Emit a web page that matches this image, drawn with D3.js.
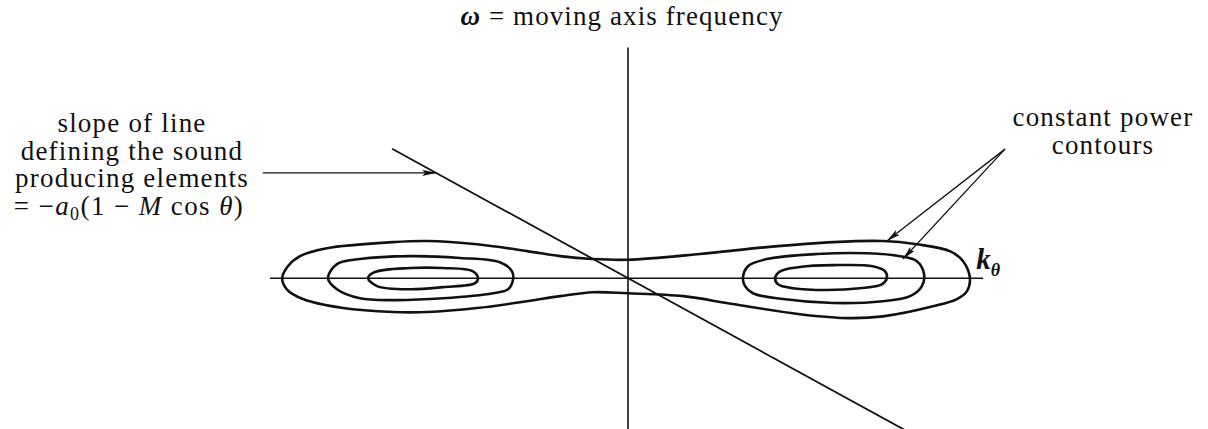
<!DOCTYPE html>
<html>
<head>
<meta charset="utf-8">
<script src="https://cdn.jsdelivr.net/npm/d3@7"></script>
<style>
  html, body { margin: 0; padding: 0; background: #fff; }
  svg { display: block; }
  text { font-family: "Liberation Serif", "Times New Roman", serif; fill: #111; }
</style>
</head>
<body>
<svg id="chart" width="1208" height="429"></svg>
<script>
// Wavenumber (k_theta) and moving-axis frequency (omega) extents
const kDomain = [-10, 10];
const omegaDomain = [-4.2, 6.4];
const kAxisExtent = [-10, 9.92];
const omegaAxisExtent = [-4.2, 6.4];

// Constant power contours, [k, omega] pairs
const outerContour = [
  [-9.66, 0], [-9.50, 0.33], [-9.16, 0.61], [-8.41, 0.83], [-6.56, 1.00], [-5.61, 1.03],
  [-4.22, 0.94], [-2.82, 0.75], [-1.90, 0.61], [-0.98, 0.53], [0, 0.51], [2.01, 0.67],
  [3.88, 0.86], [5.73, 1.00], [7.12, 1.03], [8.07, 0.94], [8.99, 0.75], [9.36, 0.47],
  [9.55, 0], [9.47, -0.36], [9.19, -0.58], [8.52, -0.78], [7.12, -1.06], [6.20, -1.11],
  [4.80, -1.00], [2.93, -0.72], [1.54, -0.50], [0, -0.42], [-0.98, -0.39], [-1.90, -0.50],
  [-2.82, -0.64], [-4.22, -0.83], [-5.61, -0.94], [-6.56, -0.94], [-7.96, -0.83],
  [-9.08, -0.58], [-9.53, -0.31]
];
const leftMiddleContour = [
  [-8.38, 0], [-8.13, 0.39], [-7.49, 0.53], [-6.09, 0.61], [-4.69, 0.56], [-3.58, 0.44],
  [-3.24, 0.19], [-3.21, -0.03], [-3.35, -0.31], [-3.77, -0.42], [-5.17, -0.56],
  [-6.56, -0.61], [-7.49, -0.56], [-8.13, -0.31]
];
const leftInnerContour = [
  [-7.26, 0], [-7.07, 0.17], [-6.09, 0.28], [-5.17, 0.28], [-4.33, 0.19], [-4.19, 0],
  [-4.27, -0.14], [-5.17, -0.25], [-6.09, -0.31], [-7.01, -0.22]
];
const rightMiddleContour = [
  [3.21, 0], [3.35, 0.33], [3.88, 0.53], [5.28, 0.67], [6.68, 0.69], [7.60, 0.61],
  [8.07, 0.47], [8.27, 0.11], [8.21, -0.22], [7.88, -0.50], [7.12, -0.64], [5.73, -0.69],
  [4.33, -0.58], [3.49, -0.42], [3.27, -0.22]
];
const rightInnerContour = [
  [4.11, 0], [4.25, 0.19], [4.80, 0.31], [5.73, 0.36], [6.84, 0.33], [7.18, 0.19],
  [7.23, 0], [7.09, -0.17], [6.48, -0.28], [5.56, -0.33], [4.61, -0.28], [4.19, -0.17]
];
const contours = [outerContour, leftMiddleContour, leftInnerContour, rightMiddleContour, rightInnerContour];

// Line of sound-producing elements: omega = slope * k
const sourceSlope = -0.545;
const sourceLineK = [-6.59, 7.79];

// Annotation anchors [k, omega]
const sourceArrowTail = [-10.2, 2.92];
const powerArrowTail = [10.53, 3.58];
const powerArrowTips = [[7.23, 1.03], [7.68, 0.53]];

// Text
const titleText = "moving axis frequency";
const sourceLabelLines = ["slope of line", "defining the sound", "producing elements"];
const powerLabelLines = ["constant power", "contours"];

const svg = d3.select("#chart");
const x = d3.scaleLinear().domain(kDomain).range([270, 986]);
const y = d3.scaleLinear().domain(omegaDomain).range([429.5, 47.5]);
const ink = "#111";

// arrowhead marker
svg.append("defs").append("marker")
  .attr("id", "head")
  .attr("markerUnits", "userSpaceOnUse")
  .attr("viewBox", "0 0 14 6")
  .attr("refX", 14).attr("refY", 3)
  .attr("markerWidth", 14).attr("markerHeight", 6)
  .attr("orient", "auto")
  .append("path").attr("d", "M0,0 L14,3 L0,6 L3,3 Z").attr("fill", ink);

// axes
svg.append("line")
  .attr("x1", x(kAxisExtent[0])).attr("x2", x(kAxisExtent[1]))
  .attr("y1", y(0)).attr("y2", y(0))
  .attr("stroke", ink).attr("stroke-width", 1.5);
svg.append("line")
  .attr("x1", x(0)).attr("x2", x(0))
  .attr("y1", y(omegaAxisExtent[1])).attr("y2", y(omegaAxisExtent[0]))
  .attr("stroke", ink).attr("stroke-width", 1.6);

// contours
const contourLine = d3.line()
  .x(d => x(d[0])).y(d => y(d[1]))
  .curve(d3.curveCatmullRomClosed.alpha(0.5));
svg.append("g").selectAll("path")
  .data(contours)
  .join("path")
  .attr("d", contourLine)
  .attr("fill", "none")
  .attr("stroke", ink)
  .attr("stroke-width", 2.6)
  .attr("stroke-linejoin", "round");

// source line
svg.append("line")
  .attr("x1", x(sourceLineK[0])).attr("y1", y(sourceSlope * sourceLineK[0]))
  .attr("x2", x(sourceLineK[1])).attr("y2", y(sourceSlope * sourceLineK[1]))
  .attr("stroke", ink).attr("stroke-width", 1.8);

// annotation arrows
const srcTipK = sourceArrowTail[1] / sourceSlope;
svg.append("line")
  .attr("x1", x(sourceArrowTail[0])).attr("y1", y(sourceArrowTail[1]))
  .attr("x2", x(srcTipK)).attr("y2", y(sourceArrowTail[1]))
  .attr("stroke", ink).attr("stroke-width", 1.3)
  .attr("marker-end", "url(#head)");
svg.append("g").selectAll("line")
  .data(powerArrowTips)
  .join("line")
  .attr("x1", x(powerArrowTail[0])).attr("y1", y(powerArrowTail[1]))
  .attr("x2", d => x(d[0])).attr("y2", d => y(d[1]))
  .attr("stroke", ink).attr("stroke-width", 1.3)
  .attr("marker-end", "url(#head)");

// title
const title = svg.append("text")
  .attr("x", 622).attr("y", 25)
  .attr("text-anchor", "middle")
  .attr("font-size", 27).attr("letter-spacing", 1.1);
title.append("tspan").attr("font-weight", "bold").attr("font-style", "italic").text("ω");
title.append("tspan").text(" = " + titleText);

// left label
const srcLabel = svg.append("text")
  .attr("text-anchor", "middle")
  .attr("font-size", 27).attr("letter-spacing", 1.2);
sourceLabelLines.forEach((t, i) => {
  srcLabel.append("tspan").attr("x", 132).attr("y", 132 + i * 27.7).text(t);
});
const formula = svg.append("text")
  .attr("x", 129).attr("y", 215)
  .attr("text-anchor", "middle")
  .attr("font-size", 27).attr("letter-spacing", 1.4);
formula.append("tspan").text("= −");
formula.append("tspan").attr("font-style", "italic").text("a");
formula.append("tspan").attr("font-size", 18).attr("dy", 5).text("0");
formula.append("tspan").attr("dy", -5).text("(1 − ");
formula.append("tspan").attr("font-style", "italic").text("M");
formula.append("tspan").text(" cos ");
formula.append("tspan").attr("font-style", "italic").text("θ");
formula.append("tspan").text(")");

// right label
const powLabel = svg.append("text")
  .attr("text-anchor", "middle")
  .attr("font-size", 27).attr("letter-spacing", 1.2);
powerLabelLines.forEach((t, i) => {
  powLabel.append("tspan").attr("x", 1103).attr("y", 126 + i * 27.5).text(t);
});

// k_theta axis label
const kLabel = svg.append("text")
  .attr("x", x(kAxisExtent[1]) - 7).attr("y", y(0) - 9)
  .attr("font-size", 29).attr("font-weight", "bold").attr("font-style", "italic");
kLabel.append("tspan").text("k");
kLabel.append("tspan").attr("font-size", 18).attr("dy", 7).text("θ");
</script>
</body>
</html>
